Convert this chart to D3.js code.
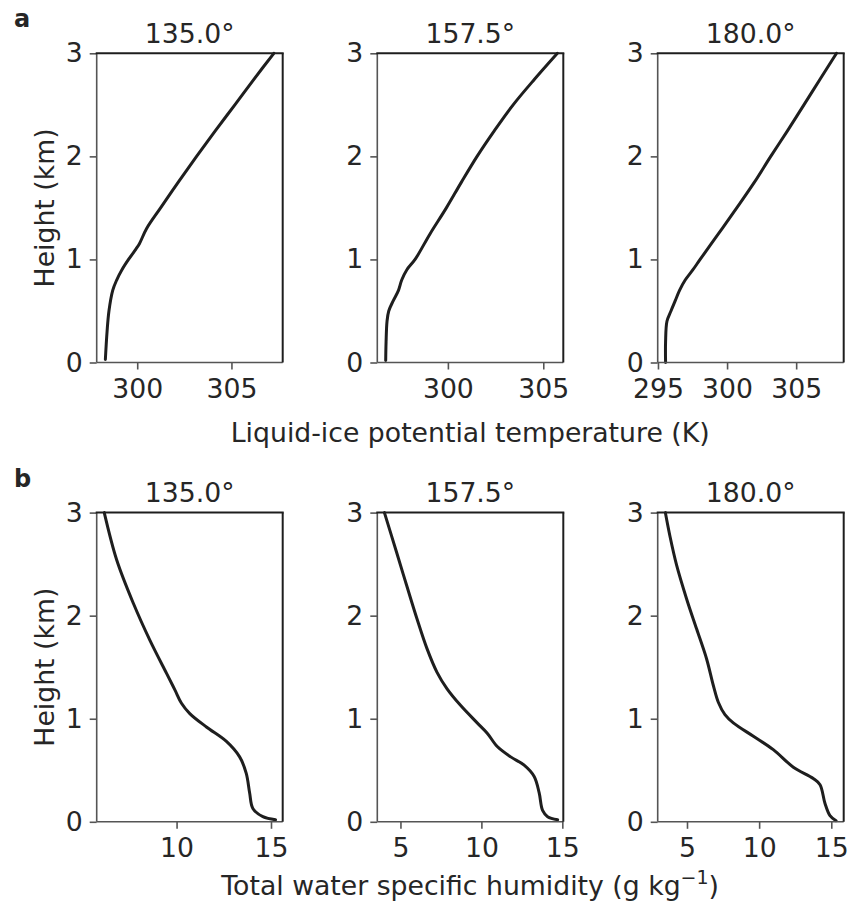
<!DOCTYPE html>
<html>
<head>
<meta charset="utf-8">
<script src="https://cdn.jsdelivr.net/npm/d3@7"></script>
<style>
    body { margin: 0; background: #fff; }
    svg { display: block; }
    text { font-family: "DejaVu Sans", sans-serif; fill: #262626; }
</style>
</head>
<body>
<svg id="chart" width="851" height="904"></svg>
<script>
// DATA
var longitudes = ["135.0°", "157.5°", "180.0°"];
var heightTicks = [0, 1, 2, 3];

// a: liquid-ice potential temperature (K)
var thetaHeights135 = [0.03, 0.3, 0.5, 0.7, 0.8, 0.9, 1.0, 1.1, 1.15, 1.3, 1.5, 1.75, 2.0, 2.25, 2.5, 2.75, 3.0];
var theta135 = [298.31, 298.40, 298.50, 298.70, 298.91, 299.19, 299.54, 299.93, 300.11, 300.50, 301.24, 302.18, 303.15, 304.15, 305.18, 306.20, 307.25];
var thetaHeights157 = [0.02, 0.2, 0.4, 0.5, 0.6, 0.7, 0.8, 0.9, 1.0, 1.25, 1.5, 1.75, 2.0, 2.25, 2.5, 2.75, 3.0];
var theta157 = [296.74, 296.76, 296.81, 296.90, 297.14, 297.41, 297.58, 297.85, 298.28, 299.07, 299.92, 300.71, 301.53, 302.44, 303.42, 304.55, 305.74];
var thetaHeights180 = [0.0, 0.2, 0.4, 0.5, 0.6, 0.7, 0.8, 0.9, 1.0, 1.25, 1.5, 1.75, 2.0, 2.25, 2.5, 2.75, 3.0];
var theta180 = [295.55, 295.55, 295.65, 295.94, 296.25, 296.56, 296.97, 297.53, 298.05, 299.38, 300.70, 301.98, 303.16, 304.38, 305.56, 306.74, 307.92];

// b: total water specific humidity (g/kg)
var qtHeights135 = [3.0, 2.54, 2.12, 1.76, 1.44, 1.28, 1.15, 1.05, 0.92, 0.78, 0.63, 0.47, 0.28, 0.13, 0.05, 0.02];
var qt135 = [6.17, 6.83, 7.71, 8.59, 9.47, 9.91, 10.26, 10.70, 11.58, 12.64, 13.34, 13.69, 13.87, 14.04, 14.57, 15.24];
var qtHeights157 = [3.0, 2.61, 2.29, 1.97, 1.68, 1.45, 1.29, 1.13, 0.96, 0.86, 0.73, 0.63, 0.55, 0.44, 0.28, 0.11, 0.05, 0.02];
var qt157 = [4.01, 4.77, 5.39, 6.02, 6.64, 7.26, 7.88, 8.71, 9.74, 10.36, 10.98, 11.81, 12.64, 13.26, 13.57, 13.78, 14.09, 14.71];
var qtHeights180 = [3.0, 2.77, 2.49, 2.16, 1.87, 1.58, 1.32, 1.16, 1.04, 0.96, 0.83, 0.70, 0.53, 0.42, 0.36, 0.18, 0.06, 0.01];
var qt180 = [3.50, 3.82, 4.28, 4.98, 5.67, 6.36, 6.83, 7.17, 7.63, 8.21, 9.60, 10.98, 12.37, 13.75, 14.22, 14.56, 14.91, 15.33];

// axis limits and ticks per panel
var thetaLimits = [[297.85, 307.72], [296.3, 306.05], [294.98, 308.44]];
var thetaTicks = [[300, 305], [300, 305], [295, 300, 305]];
var qtLimits = [[5.77, 15.62], [3.57, 15.06], [2.97, 15.86]];
var qtTicks = [[10, 15], [5, 10, 15], [5, 10, 15]];


// LAYOUT
var _svg = d3.select("#chart");
var _fontSize = 26.7;
var _colLeft = [96.7, 377.3, 657.7];
var _panelWidth = 186;
var _panelHeight = 309.2;
var _rowTop = [53.3, 512.6];

var pairUp = function(xs, hs) {
    return xs.map(function(v, i) { return { x: v, h: hs[i] }; });
};

var rows = [
    {
        letter: "a",
        series: [pairUp(theta135, thetaHeights135), pairUp(theta157, thetaHeights157), pairUp(theta180, thetaHeights180)],
        limits: thetaLimits,
        ticks: thetaTicks,
        label: "Liquid-ice potential temperature (K)",
        labelOffset: 79
    },
    {
        letter: "b",
        series: [pairUp(qt135, qtHeights135), pairUp(qt157, qtHeights157), pairUp(qt180, qtHeights180)],
        limits: qtLimits,
        ticks: qtTicks,
        label: "Total water specific humidity (g kg",
        labelOffset: 73.5
    }
];

var drawPanel = function(row, r, c) {
    var left = _colLeft[c];
    var top = _rowTop[r];

    var x = d3.scaleLinear().domain(row.limits[c]).range([0, _panelWidth]);
    var y = d3.scaleLinear().domain([0, 3]).range([_panelHeight, 0]);

    var g = _svg.append("g")
        .attr("transform", "translate(" + left + "," + top + ")");

    // profile
    var line = d3.line()
        .x(function(d) { return x(d.x); })
        .y(function(d) { return y(d.h); })
        .curve(d3.curveCatmullRom.alpha(0.5));

    g.append("path")
        .datum(row.series[c])
        .attr("d", line)
        .attr("fill", "none")
        .attr("stroke", "#1e1e1e")
        .attr("stroke-width", 3)
        .attr("stroke-linecap", "round")
        .attr("stroke-linejoin", "round");

    // axes (ticks + labels)
    var xAxis = d3.axisBottom(x).tickValues(row.ticks[c]).tickSize(7).tickFormat(d3.format("d"));
    var yAxis = d3.axisLeft(y).tickValues(heightTicks).tickSize(7).tickPadding(7).tickFormat(d3.format("d"));

    var gx = g.append("g").attr("transform", "translate(0," + _panelHeight + ")").call(xAxis);
    var gy = g.append("g").call(yAxis);

    [gx, gy].forEach(function(a) {
        a.select(".domain").remove();
        a.selectAll(".tick line").attr("stroke", "#555").attr("stroke-width", 1.6);
        a.selectAll(".tick text")
            .style("font-family", "DejaVu Sans")
            .style("font-size", _fontSize + "px")
            .attr("fill", "#262626");
    });
    gx.selectAll(".tick text").attr("dy", null).attr("y", 35.5);

    // spines: left/bottom grey, top/right dark
    g.append("line").attr("x1", 0).attr("x2", 0).attr("y1", 0).attr("y2", _panelHeight)
        .attr("stroke", "#555").attr("stroke-width", 1.6);
    g.append("line").attr("x1", 0).attr("x2", _panelWidth).attr("y1", _panelHeight).attr("y2", _panelHeight)
        .attr("stroke", "#555").attr("stroke-width", 1.6);
    g.append("line").attr("x1", -1).attr("x2", _panelWidth + 1).attr("y1", 0).attr("y2", 0)
        .attr("stroke", "#1e1e1e").attr("stroke-width", 2);
    g.append("line").attr("x1", _panelWidth).attr("x2", _panelWidth).attr("y1", 0).attr("y2", _panelHeight)
        .attr("stroke", "#1e1e1e").attr("stroke-width", 2);

    // title
    g.append("text")
        .attr("x", _panelWidth / 2)
        .attr("y", -10.6)
        .attr("text-anchor", "middle")
        .style("font-size", _fontSize + "px")
        .text(longitudes[c]);

    if (c === 0) {
        g.append("text")
            .attr("transform", "translate(" + (54 - left) + "," + (_panelHeight / 2) + ") rotate(-90)")
            .attr("text-anchor", "middle")
            .style("font-size", _fontSize + "px")
            .text("Height (km)");
    }
};

var draw = function() {
    rows.forEach(function(row, r) {
        for (var c = 0; c < 3; c++) {
            drawPanel(row, r, c);
        }

        // panel letter
        _svg.append("text")
            .attr("x", 14)
            .attr("y", _rowTop[r] - 26)
            .style("font-size", "24px")
            .style("font-weight", "bold")
            .text(row.letter);

        // shared x label
        var xl = _svg.append("text")
            .attr("x", (_colLeft[0] + _colLeft[2] + _panelWidth) / 2)
            .attr("y", _rowTop[r] + _panelHeight + row.labelOffset)
            .attr("text-anchor", "middle")
            .style("font-size", _fontSize + "px")
            .text(row.label);
        if (row.letter === "b") {
            xl.append("tspan").attr("dy", -11).style("font-size", "19px").text("\u22121");
            xl.append("tspan").attr("dy", 11).text(")");
        }
    });
};

draw();
</script>
</body>
</html>
